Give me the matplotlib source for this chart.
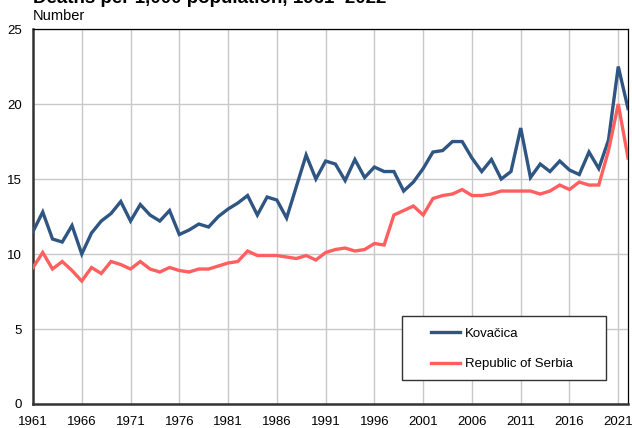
"""
deaths per 1,000 population chart
"""

import matplotlib
matplotlib.use("Agg")
import matplotlib.pyplot as plt
from matplotlib.patches import Rectangle

years = list(range(1961, 2023))

kovacica = [11.5, 12.8, 11.0, 10.8, 11.9, 10.0, 11.4, 12.2, 12.7, 13.5,
            12.2, 13.3, 12.6, 12.2, 12.9, 11.3, 11.6, 12.0, 11.8, 12.5,
            13.0, 13.4, 13.9, 12.6, 13.8, 13.6, 12.4, 14.5, 16.6, 15.0,
            16.2, 16.0, 14.9, 16.3, 15.1, 15.8, 15.5, 15.5, 14.2, 14.8,
            15.7, 16.8, 16.9, 17.5, 17.5, 16.4, 15.5, 16.3, 15.0, 15.5,
            18.4, 15.1, 16.0, 15.5, 16.2, 15.6, 15.3, 16.8, 15.7, 17.6,
            22.5, 19.7]

serbia = [9.1, 10.1, 9.0, 9.5, 8.9, 8.2, 9.1, 8.7, 9.5, 9.3,
          9.0, 9.5, 9.0, 8.8, 9.1, 8.9, 8.8, 9.0, 9.0, 9.2,
          9.4, 9.5, 10.2, 9.9, 9.9, 9.9, 9.8, 9.7, 9.9, 9.6,
          10.1, 10.3, 10.4, 10.2, 10.3, 10.7, 10.6, 12.6, 12.9, 13.2,
          12.6, 13.7, 13.9, 14.0, 14.3, 13.9, 13.9, 14.0, 14.2, 14.2,
          14.2, 14.2, 14.0, 14.2, 14.6, 14.3, 14.8, 14.6, 14.6, 16.9,
          20.0, 16.4]

x_ticks = list(range(1961, 2022, 5))
y_ticks = [0, 5, 10, 15, 20, 25]

plt.rcParams["font.family"] = ["Liberation Sans", "DejaVu Sans"]

fig = plt.figure(figsize=(6.32, 4.28), dpi=100)
ax = fig.add_axes([0.0522, 0.0561, 0.9415, 0.876])

ax.plot(years, kovacica, color="#2f5583", lw=2.4, label="Kovačica",
        solid_joinstyle="miter", zorder=3)
ax.plot(years, serbia, color="#ff5f5f", lw=2.4, label="Republic of Serbia",
        solid_joinstyle="miter", zorder=3)

ax.set_xlim(1961, 2022)
ax.set_ylim(0, 25)
ax.set_xticks(x_ticks)
ax.set_yticks(y_ticks)
ax.tick_params(length=0, labelsize=9.5)
ax.tick_params(axis="x", pad=9)
ax.tick_params(axis="y", pad=8)
ax.grid(True, color="#c8c8c8", lw=1.0)
ax.set_axisbelow(True)

for side in ["top", "right"]:
    ax.spines[side].set_linewidth(0.9)
    ax.spines[side].set_color("black")
for side in ["left", "bottom"]:
    ax.spines[side].set_linewidth(1.8)
    ax.spines[side].set_color("#333333")

# legend box drawn separately so the entries can sit with a wide left margin
ax.add_patch(Rectangle((0.620, 0.064), 0.343, 0.1707, transform=ax.transAxes,
                       facecolor="white", edgecolor="#333333", lw=1.0,
                       zorder=4))
leg = ax.legend(loc="center left", bbox_to_anchor=(0.669, 0.1467),
                fontsize=9.5, frameon=False, handlelength=2.2,
                labelspacing=1.35, borderpad=0, handletextpad=0.4,
                borderaxespad=0)
leg.set_zorder(5)

fig.text(0.052, 0.993, "Deaths per 1,000 population, 1961\u20132022",
         fontsize=13.5, fontweight="bold", va="baseline", ha="left")
fig.text(0.052, 0.9533, "Number", fontsize=10.5, va="baseline", ha="left")

fig.savefig("out.png", dpi=100)
